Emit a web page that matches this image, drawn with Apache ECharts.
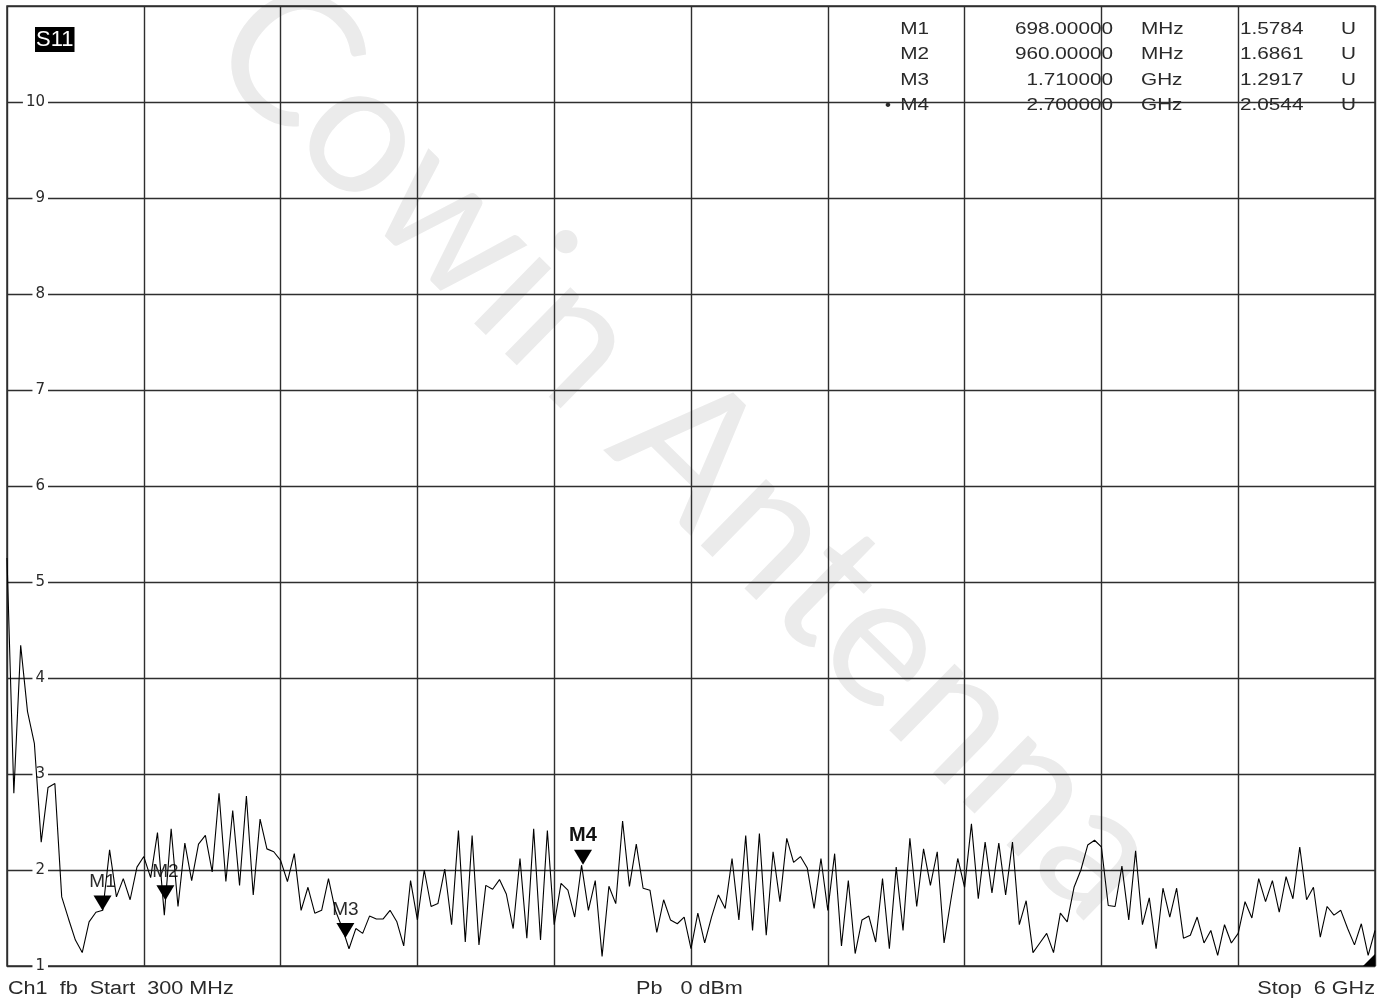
<!DOCTYPE html>
<html>
<head>
<meta charset="utf-8">
<script src="https://cdn.jsdelivr.net/npm/echarts@6/dist/echarts.min.js"></script>
<style>
html,body{margin:0;padding:0;background:#fff;}
#chart{width:1388px;height:1003px;}
</style>
</head>
<body>
<div id="chart"></div>
<script>
// ---- data ----
const startMHz = 300;
const stopMHz = 6000;
const yTicks = [1, 2, 3, 4, 5, 6, 7, 8, 9, 10];
// S11 VSWR trace, 201 sweep points
const s11 = [
  5.25, 2.80, 4.34, 3.65, 3.32, 2.29, 2.86, 2.90, 1.72, 1.49,
  1.27, 1.14, 1.46, 1.56, 1.58, 2.21, 1.72, 1.91, 1.69, 2.03,
  2.14, 1.92, 2.39, 1.53, 2.43, 1.62, 2.28, 1.89, 2.27, 2.36,
  1.98, 2.80, 1.88, 2.62, 1.84, 2.77, 1.74, 2.53, 2.22, 2.19,
  2.10, 1.88, 2.17, 1.58, 1.82, 1.55, 1.58, 1.91, 1.58, 1.40,
  1.18, 1.39, 1.34, 1.52, 1.49, 1.49, 1.58, 1.46, 1.21, 1.89,
  1.48, 2.00, 1.62, 1.65, 2.01, 1.43, 2.41, 1.25, 2.36, 1.22,
  1.84, 1.80, 1.90, 1.75, 1.39, 2.12, 1.29, 2.43, 1.27, 2.41,
  1.43, 1.86, 1.79, 1.51, 2.05, 1.58, 1.89, 1.10, 1.83, 1.65,
  2.51, 1.83, 2.27, 1.81, 1.79, 1.35, 1.69, 1.48, 1.44, 1.51,
  1.18, 1.55, 1.24, 1.51, 1.74, 1.60, 2.12, 1.48, 2.36, 1.37,
  2.38, 1.32, 2.19, 1.67, 2.33, 2.08, 2.14, 2.02, 1.60, 2.12,
  1.58, 2.17, 1.21, 1.89, 1.13, 1.48, 1.52, 1.25, 1.91, 1.18,
  2.03, 1.37, 2.33, 1.62, 2.22, 1.84, 2.19, 1.24, 1.69, 2.12,
  1.82, 2.48, 1.70, 2.29, 1.76, 2.28, 1.74, 2.29, 1.43, 1.68,
  1.14, 1.24, 1.34, 1.14, 1.55, 1.46, 1.82, 2.00, 2.26, 2.31,
  2.24, 1.63, 1.62, 2.04, 1.48, 2.20, 1.43, 1.71, 1.18, 1.81,
  1.51, 1.81, 1.29, 1.32, 1.51, 1.24, 1.37, 1.11, 1.43, 1.24,
  1.34, 1.67, 1.50, 1.91, 1.67, 1.89, 1.56, 1.93, 1.70, 2.24,
  1.69, 1.82, 1.30, 1.62, 1.53, 1.58, 1.39, 1.22, 1.44, 1.11,
  1.37
];
const markerNames = ['M1', 'M2', 'M3', 'M4'];
const markerFreqMHz = [698, 960, 1710, 2700];
const markerFreqText = ['698.00000', '960.00000', '1.710000', '2.700000'];
const markerUnits = ['MHz', 'MHz', 'GHz', 'GHz'];
const markerValues = [1.5784, 1.6861, 1.2917, 2.0544];
const activeMarker = 'M4';
const traceName = 'S11';
const footerLeft = 'Ch1  fb  Start  300 MHz';
const footerMid = 'Pb   0 dBm';
const footerRight = 'Stop  6 GHz';
const watermark = 'Cowin Antenna';

// ---- build ----
const step = (stopMHz - startMHz) / (s11.length - 1);
const traceData = s11.map((v, i) => [startMHz + i * step, v]);

const FONT = '"Liberation Sans", Arial, sans-serif';
const txtColor = '#2a2a2a';
const gridColor = '#2e2e2e';

const markPts = markerNames.map((n, k) => ({
  name: n,
  coord: [markerFreqMHz[k], markerValues[k]],
  label: n === activeMarker
    ? { fontWeight: 'bold', fontSize: 20, color: '#111' }
    : {}
}));
// corner indicator
markPts.push({
  name: '',
  coord: [stopMHz, 1],
  symbol: 'path://M0,10 L10,10 L10,0 Z',
  symbolSize: 12,
  symbolRotate: 0,
  symbolOffset: [-6, -6],
  itemStyle: { color: '#000' },
  label: { show: false }
});

const graphics = [];
graphics.push({
  type: 'text', z: -10, x: 688, y: 450, rotation: -0.775,
  style: { text: watermark, fill: '#ebebeb', font: '400 184px Lato, "Open Sans", sans-serif',
           align: 'center', verticalAlign: 'middle' }
});
graphics.push({
  type: 'text', x: 35, y: 27, z: 10,
  style: { text: traceName, fill: '#fff', backgroundColor: '#000', padding: [2, 1, 1, 1],
           font: '22px ' + FONT, align: 'left', verticalAlign: 'top' }
});
const rowY = [29, 54.5, 80, 105.5];
markerNames.forEach((n, k) => {
  const base = { font: '17px ' + FONT, fill: txtColor, verticalAlign: 'middle' };
  graphics.push({ type: 'text', x: 929, y: rowY[k], scaleX: 1.22, z: 10,
    style: Object.assign({}, base, { text: n, align: 'right' }) });
  if (n === activeMarker) {
    graphics.push({ type: 'text', x: 885, y: rowY[k], z: 10,
      style: Object.assign({}, base, { text: '•', align: 'left' }) });
  }
  graphics.push({ type: 'text', x: 1113, y: rowY[k], scaleX: 1.22, z: 10,
    style: Object.assign({}, base, { text: markerFreqText[k], align: 'right' }) });
  graphics.push({ type: 'text', x: 1141, y: rowY[k], scaleX: 1.22, z: 10,
    style: Object.assign({}, base, { text: markerUnits[k], align: 'left' }) });
  graphics.push({ type: 'text', x: 1240, y: rowY[k], scaleX: 1.22, z: 10,
    style: Object.assign({}, base, { text: markerValues[k].toFixed(4), align: 'left' }) });
  graphics.push({ type: 'text', x: 1341, y: rowY[k], scaleX: 1.22, z: 10,
    style: Object.assign({}, base, { text: 'U', align: 'left' }) });
});
const footBase = { font: '18px ' + FONT, fill: txtColor, verticalAlign: 'middle' };
graphics.push({ type: 'text', x: 8, y: 989, scaleX: 1.2,
  style: Object.assign({}, footBase, { text: footerLeft, align: 'left' }) });
graphics.push({ type: 'text', x: 636, y: 989, scaleX: 1.2,
  style: Object.assign({}, footBase, { text: footerMid, align: 'left' }) });
graphics.push({ type: 'text', x: 1375, y: 989, scaleX: 1.2,
  style: Object.assign({}, footBase, { text: footerRight, align: 'right' }) });

const chart = echarts.init(document.getElementById('chart'), null, { renderer: 'canvas' });
chart.setOption({
  animation: false,
  backgroundColor: '#fff',
  graphic: graphics,
  grid: { left: 7, right: 13, top: 6, bottom: 37, show: true, borderColor: gridColor, borderWidth: 1.5,
          backgroundColor: 'transparent', containLabel: false },
  xAxis: [
    { type: 'value', min: startMHz, max: stopMHz, show: true,
      axisLine: { show: false }, axisTick: { show: false }, axisLabel: { show: false },
      splitLine: { show: false } },
    { type: 'value', min: 0, max: 10, interval: 1, position: 'bottom',
      axisLine: { show: false }, axisTick: { show: false }, axisLabel: { show: false },
      splitLine: { show: true, lineStyle: { color: gridColor, width: 1.4 } } }
  ],
  yAxis: {
    type: 'value', min: 1, max: 11, interval: 1,
    axisLine: { show: false }, axisTick: { show: false },
    splitLine: { show: true, lineStyle: { color: gridColor, width: 1.4 } },
    axisLabel: {
      inside: true, align: 'right', margin: 41, showMaxLabel: false,
      formatter: v => (yTicks.indexOf(v) >= 0 ? String(v) : ''),
      color: txtColor, fontFamily: 'DejaVu Sans', fontSize: 15,
      backgroundColor: '#fff', padding: [0, 3, 0, 3]
    }
  },
  series: [{
    type: 'line', xAxisIndex: 0, data: traceData, showSymbol: false, symbol: 'none',
    lineStyle: { color: '#000', width: 1.1 }, z: 5,
    markPoint: {
      symbol: 'triangle', symbolSize: [18, 15], symbolRotate: 180, symbolOffset: [0, -7.5],
      itemStyle: { color: '#000' },
      label: { show: true, position: 'top', distance: 4, formatter: '{b}',
               color: txtColor, fontFamily: FONT, fontSize: 19 },
      data: markPts
    }
  }]
});
</script>
</body>
</html>
